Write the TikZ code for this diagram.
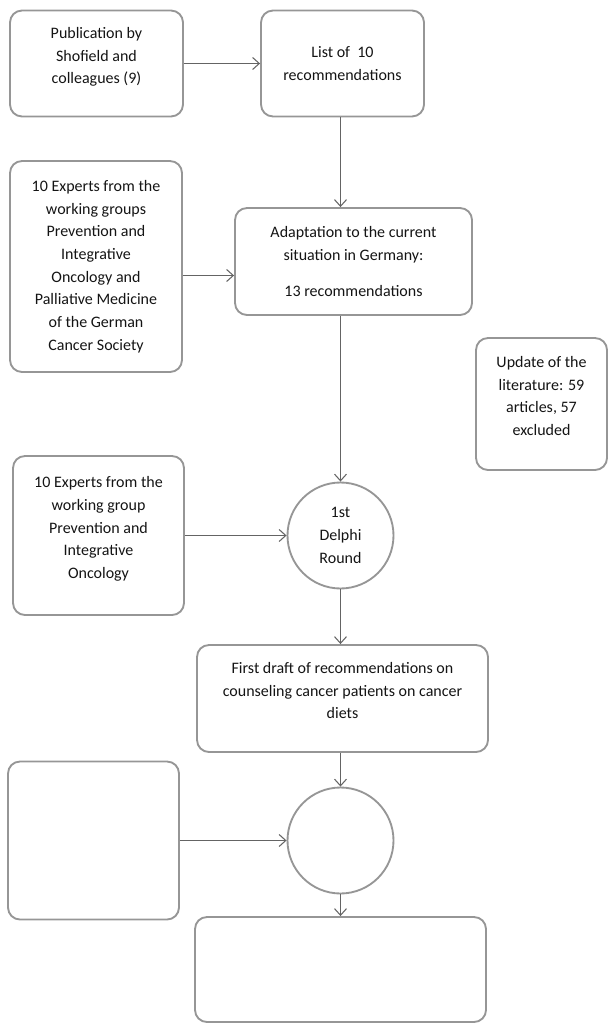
\documentclass[tikz,border=0pt]{standalone}
\usepackage{fontspec}
\setmainfont{Carlito}
\usepackage{xcolor}
\usetikzlibrary{arrows.meta}
\usetikzlibrary{shapes}
\definecolor{boxgray}{RGB}{150,150,150}
\definecolor{argray}{RGB}{100,100,100}
\definecolor{txtgray}{RGB}{20,20,20}
\tikzstyle{bx} = [rectangle, draw=boxgray, line width=1.4pt, rounded corners=9pt, align=center, text=txtgray, font=\fontsize{12pt}{17pt}\selectfont, inner sep=2pt]
\tikzstyle{rd} = [circle, draw=boxgray, line width=1.4pt, align=center, text=txtgray, font=\fontsize{12pt}{17pt}\selectfont, inner sep=1pt, minimum size=79.5pt]
\tikzstyle{ar} = [draw=argray, line width=0.8pt, -{Straight Barb[length=5pt,width=9pt]}]

\begin{document}
\begin{tikzpicture}[x=0.75pt,y=-0.75pt]
				\useasboundingbox (0,0) rectangle (609,1024);
				\node[bx, minimum width=129.75pt, minimum height=79.5pt] (pub) at (96.5,63.5) {Publication by\\Shofield and\\colleagues (9)\\[-5pt]};
				\node[bx, minimum width=122.25pt, minimum height=79.5pt] (list) at (342.5,63.5) {List of \ 10\\recommendations};
				\node[bx, minimum width=129pt, minimum height=158.25pt] (experts1) at (96,266.5) {10 Experts from the\\working groups\\Prevention and\\Integrative\\Oncology and\\Palliative Medicine\\of the German\\Cancer Society};
				\node[bx, minimum width=177.75pt, minimum height=80.25pt] (adapt) at (353.5,261.5) {Adaptation to the current\\situation in Germany:\\[10pt]13 recommendations};
				\node[bx, minimum width=98.25pt, minimum height=99pt] (update) at (541.5,404) {Update of the\\literature: 59\\articles, 57\\excluded\\[-5pt]};
				\node[bx, minimum width=128.25pt, minimum height=119.25pt] (experts2) at (98.5,535.5) {10 Experts from the\\working group\\Prevention and\\Integrative\\Oncology\\[-5pt]};
				\node[rd] (delphi) at (340.5,535.5) {1st\\Delphi\\Round};
				\node[bx, minimum width=218.25pt, minimum height=80.25pt] (draft) at (342.5,698.5) {First draft of recommendations on\\counseling cancer patients on cancer\\diets\\[-5pt]};
				\node[bx, minimum width=128.25pt, minimum height=118.5pt] (blank1) at (93.5,840.5) {};
				\node[rd] (round2) at (340.5,840.5) {};
				\node[bx, minimum width=218.25pt, minimum height=78.75pt] (blank2) at (340.5,969.5) {};
				%%%%%%%%%%%%%%%%%%%%%%%%%%%%%%%%%%
				\draw[ar] (pub) -- (list);
				\draw[ar] (list.south -| delphi) -- (adapt.north -| delphi);
				\draw[ar] ([yshift=-6.75pt]experts1.east) -- ([yshift=-6.75pt]experts1.east -| adapt.west);
				\draw[ar] (adapt.south -| delphi) -- (delphi);
				\draw[ar] (experts2) -- (delphi);
				\draw[ar] (delphi) -- (draft.north -| delphi);
				\draw[ar] (draft.south -| round2) -- (round2);
				\draw[ar] (blank1) -- (round2);
				\draw[ar] (round2) -- (blank2.north -| round2);
			\end{tikzpicture}
\end{document}
